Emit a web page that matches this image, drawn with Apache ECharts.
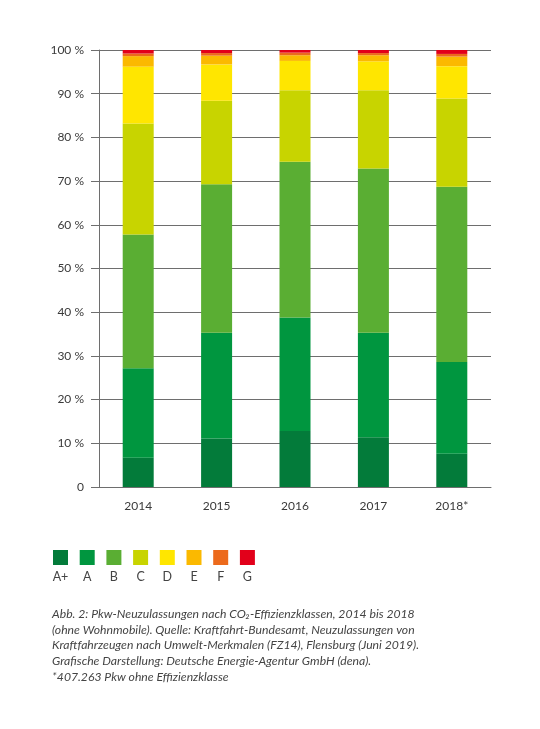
<!DOCTYPE html>
<html>
<head>
<meta charset="utf-8">
<script src="https://cdn.jsdelivr.net/npm/echarts@6/dist/echarts.min.js"></script>
<style>
html,body{margin:0;padding:0;background:#fff;}
#chart{width:540px;height:729px;}
</style>
</head>
<body>
<div id="chart"></div>
<script>
const categories = ['2014', '2015', '2016', '2017', '2018*'];
const classNames = ['A+', 'A', 'B', 'C', 'D', 'E', 'F', 'G'];
const yTickLabels = ['0', '10 %', '20 %', '30 %', '40 %', '50 %', '60 %', '70 %', '80 %', '90 %', '100 %'];

const valuesAPlus = [6.7, 11.1, 12.8, 11.4, 7.6];
const valuesA     = [20.5, 24.2, 26.0, 23.9, 21.0];
const valuesB     = [30.6, 34.0, 35.6, 37.6, 40.1];
const valuesC     = [25.4, 19.1, 16.4, 17.9, 20.2];
const valuesD     = [13.0, 8.3, 6.7, 6.6, 7.4];
const valuesE     = [2.4, 2.0, 1.3, 1.4, 2.2];
const valuesF     = [0.6, 0.6, 0.6, 0.5, 0.6];
const valuesG     = [0.8, 0.7, 0.6, 0.7, 0.9];

const captionLines = [
  'Abb. 2: Pkw-Neuzulassungen nach CO\u2082-Effizienzklassen, 2014 bis 2018',
  '(ohne Wohnmobile). Quelle: Kraftfahrt-Bundesamt, Neuzulassungen von',
  'Kraftfahrzeugen nach Umwelt-Merkmalen (FZ14), Flensburg (Juni 2019).',
  'Grafische Darstellung: Deutsche Energie-Agentur GmbH (dena).',
  '*407.263 Pkw ohne Effizienzklasse'
];

const allValues = [valuesAPlus, valuesA, valuesB, valuesC, valuesD, valuesE, valuesF, valuesG];
const palette = ['#037b3a', '#00963f', '#5aae33', '#c8d400', '#ffe600', '#fbb900', '#ec6a1c', '#e2001a'];

const FONT = 'Lato, "Open Sans", sans-serif';
const TEXT = '#3a3a3a';
const GRIDC = '#6e6e6e';

const legendLeft0 = 53, legendStep = 26.7, legendTop = 550, sq = 15;

const chart = echarts.init(document.getElementById('chart'), null, {renderer: 'canvas'});

const series = classNames.map((n, i) => ({
  name: n,
  type: 'bar',
  stack: 'total',
  barWidth: 31,
  data: allValues[i],
  itemStyle: {color: palette[i]},
  emphasis: {disabled: true},
  animation: false
}));

const legends = classNames.map((n, i) => ({
  data: [n],
  left: legendLeft0 + i * legendStep,
  top: legendTop,
  itemWidth: sq,
  itemHeight: sq,
  icon: 'rect',
  selectedMode: false,
  formatter: () => '',
  padding: 0
}));

const legendLabels = classNames.map((n, i) => ({
  type: 'text',
  x: legendLeft0 + i * legendStep + sq / 2,
  y: 577,
  style: {
    text: n,
    align: 'center',
    verticalAlign: 'middle',
    font: '12.5px ' + FONT,
    fill: '#444'
  }
}));

const option = {
  backgroundColor: '#fff',
  animation: false,
  grid: {left: 99, top: 50, width: 392, height: 437, containLabel: false},
  legend: legends,
  xAxis: {
    type: 'category',
    data: categories,
    axisLine: {show: true, lineStyle: {color: GRIDC, width: 1}},
    axisTick: {show: false},
    axisLabel: {color: TEXT, fontFamily: FONT, fontSize: 12, margin: 13}
  },
  yAxis: {
    type: 'value',
    min: 0,
    max: 100,
    interval: 10,
    axisLine: {show: true, lineStyle: {color: GRIDC, width: 1}},
    axisTick: {show: true, length: 8, lineStyle: {color: GRIDC}},
    splitLine: {show: true, lineStyle: {color: GRIDC, width: 1}},
    axisLabel: {
      color: TEXT, fontFamily: FONT, fontSize: 12, margin: 15,
      formatter: (v) => yTickLabels[Math.round(v / 10)]
    }
  },
  series: series,
  graphic: legendLabels.concat([{
    type: 'text',
    x: 52,
    y: 606,
    style: {
      text: captionLines.join('\n'),
      font: 'italic 12.2px ' + FONT,
      lineHeight: 15.8,
      fill: '#444'
    }
  }])
};

chart.setOption(option);
</script>
</body>
</html>
